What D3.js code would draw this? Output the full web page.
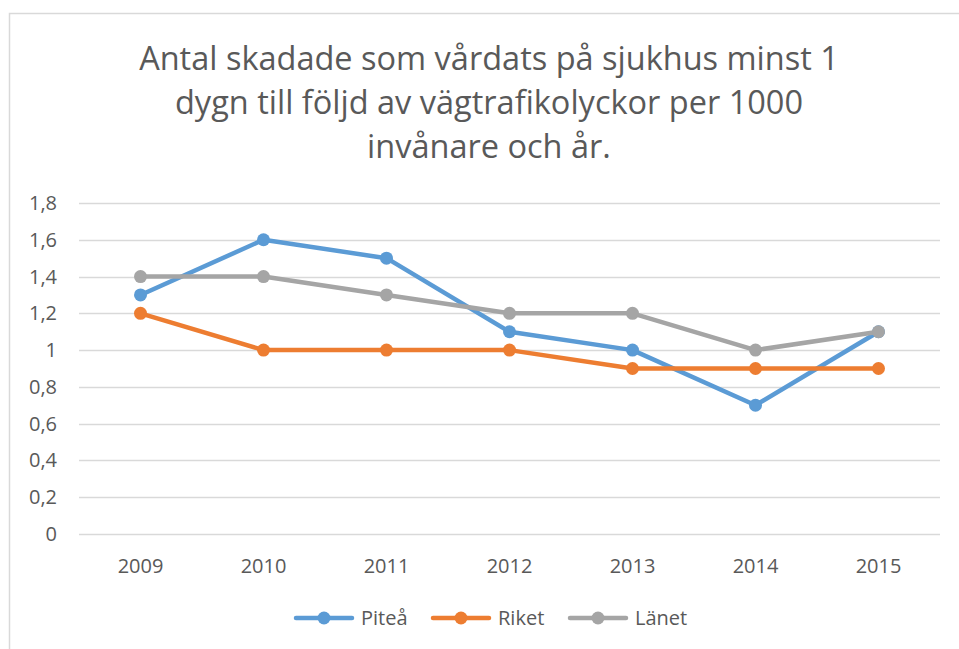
<!DOCTYPE html>
<html>
<head>
<meta charset="utf-8">
<script src="https://cdn.jsdelivr.net/npm/d3@7"></script>
<style>
  body { margin: 0; background: #fff; }
  text { font-family: "Open Sans", "Noto Sans", sans-serif; fill: #595959; }
</style>
</head>
<body>
<div id="chart"></div>
<script>
// data
const years = ["2009", "2010", "2011", "2012", "2013", "2014", "2015"];
const pitea = [1.3, 1.6, 1.5, 1.1, 1.0, 0.7, 1.1];
const riket = [1.2, 1.0, 1.0, 1.0, 0.9, 0.9, 0.9];
const lanet = [1.4, 1.4, 1.3, 1.2, 1.2, 1.0, 1.1];
const yTicks = [0, 0.2, 0.4, 0.6, 0.8, 1, 1.2, 1.4, 1.6, 1.8];
const titleLines = ["Antal skadade som vårdats på sjukhus minst 1",
                    "dygn till följd av vägtrafikolyckor per 1000",
                    "invånare och år."];

const series = [
  { name: "Piteå", values: pitea, color: "#5B9BD5" },
  { name: "Riket", values: riket, color: "#ED7D31" },
  { name: "Länet", values: lanet, color: "#A5A5A5" }
];

let width = 959, height = 649;
let margin = { top: 203, bottom: 115, left: 79, right: 19 };

let svg = d3.select('#chart')
  .append('svg')
  .attr('width', width)
  .attr('height', height);

// chart border
svg.append('rect')
  .attr('x', 9.5).attr('y', 13.5)
  .attr('width', 960).attr('height', 660)
  .attr('fill', 'none')
  .attr('stroke', '#D9D9D9')
  .attr('stroke-width', 1.5);

// title
svg.append('text')
  .attr('text-anchor', 'middle')
  .style('font-size', '32.5px')
  .selectAll('tspan')
  .data(titleLines)
  .enter().append('tspan')
  .attr('x', 489)
  .attr('y', (d, i) => 70 + i * 44)
  .text(d => d);

let xScale = d3.scaleBand()
  .domain(years)
  .range([margin.left, width - margin.right]);

let yScale = d3.scaleLinear()
  .domain([0, 1.8])
  .range([height - margin.bottom, margin.top]);

// gridlines
svg.append('g')
  .selectAll('line')
  .data(yTicks)
  .enter().append('line')
  .attr('x1', margin.left)
  .attr('x2', width - margin.right)
  .attr('y1', d => Math.round(yScale(d)) + 0.5)
  .attr('y2', d => Math.round(yScale(d)) + 0.5)
  .attr('stroke', '#D9D9D9')
  .attr('stroke-width', 1.5);

// y labels
svg.append('g')
  .selectAll('text')
  .data(yTicks)
  .enter().append('text')
  .attr('x', 57)
  .attr('y', d => yScale(d) + 7)
  .attr('text-anchor', 'end')
  .style('font-size', '20px')
  .text(d => String(d).replace('.', ','));

// x labels
svg.append('g')
  .selectAll('text')
  .data(years)
  .enter().append('text')
  .attr('x', d => xScale(d) + xScale.bandwidth() / 2)
  .attr('y', 573)
  .attr('text-anchor', 'middle')
  .style('font-size', '20px')
  .text(d => d);

let line = d3.line()
  .x((d, i) => xScale(years[i]) + xScale.bandwidth() / 2)
  .y(d => yScale(d));

series.forEach(s => {
  let g = svg.append('g');
  g.append('path')
    .attr('d', line(s.values))
    .attr('fill', 'none')
    .attr('stroke', s.color)
    .attr('stroke-width', 4.5)
    .attr('stroke-linejoin', 'round')
    .attr('stroke-linecap', 'round');
  g.selectAll('circle')
    .data(s.values)
    .enter().append('circle')
    .attr('cx', (d, i) => xScale(years[i]) + xScale.bandwidth() / 2)
    .attr('cy', d => yScale(d))
    .attr('r', 6.5)
    .attr('fill', s.color);
});

// legend
const legendX = [296, 433, 570];
const legend = svg.selectAll('.legend')
  .data(series)
  .enter().append('g')
  .attr('class', 'legend')
  .attr('transform', (d, i) => `translate(${legendX[i]},618)`);

legend.append('line')
  .attr('x1', 0).attr('x2', 56)
  .attr('stroke', d => d.color)
  .attr('stroke-width', 4.5)
  .attr('stroke-linecap', 'round');

legend.append('circle')
  .attr('cx', 28)
  .attr('r', 6.5)
  .attr('fill', d => d.color);

legend.append('text')
  .attr('x', 65)
  .attr('y', 7)
  .style('font-size', '20px')
  .text(d => d.name);
</script>
</body>
</html>
